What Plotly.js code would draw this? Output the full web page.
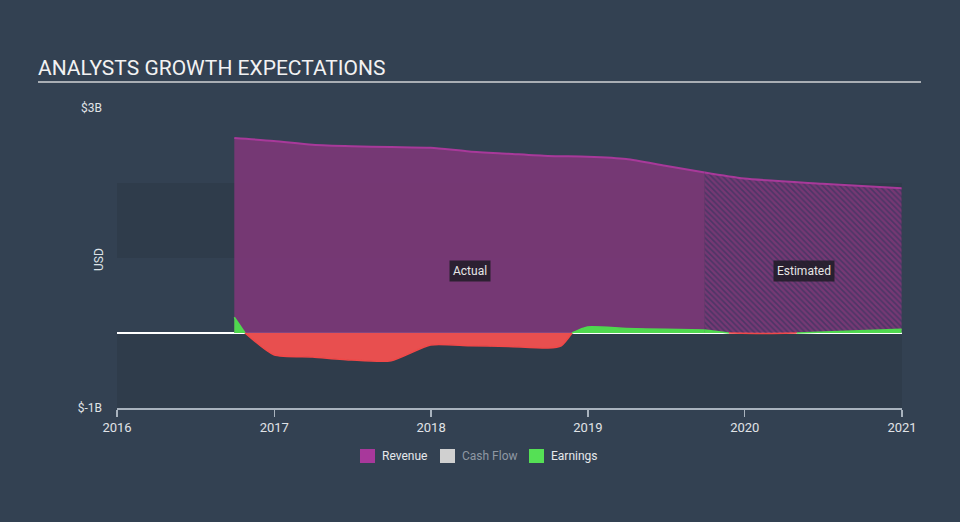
<!DOCTYPE html>
<html>
<head>
<meta charset="utf-8">
<script src="https://cdn.plot.ly/plotly-3.0.1.min.js"></script>
<style>
html,body{margin:0;padding:0;background:#334152;}
#chart{width:960px;height:522px;}
</style>
</head>
<body>
<div id="chart"></div>
<script>
// ---- data (values in billions USD) ----
var revenueActualDates = ['2016-09-30','2016-12-31','2017-03-31','2017-06-30','2017-09-30','2017-12-31','2018-03-31','2018-06-30','2018-09-30','2018-12-31','2019-03-31','2019-06-30','2019-09-30'];
var revenueActual = [2.60,2.56,2.51,2.49,2.48,2.47,2.42,2.39,2.36,2.35,2.32,2.23,2.14];
var revenueEstDates = ['2019-09-30','2019-12-31','2020-06-30','2020-12-31'];
var revenueEst = [2.14,2.06,1.99,1.93];

var earningsActualDates = ['2016-09-30','2016-10-25','2016-12-31','2017-03-31','2017-06-30','2017-09-30','2017-12-31','2018-03-31','2018-06-30','2018-09-30','2018-10-31','2018-11-25','2018-12-31','2019-03-31','2019-06-30','2019-09-30'];
var earningsActual = [0.21,0.0,-0.29,-0.32,-0.36,-0.37,-0.16,-0.17,-0.18,-0.20,-0.17,0.0,0.08,0.06,0.05,0.04];
var earningsEstDates = ['2019-09-30','2019-11-25','2020-02-15','2020-05-01','2020-12-31'];
var earningsEst = [0.04,0.0,-0.006,0.0,0.05];

var yearTicks = ['2016-01-01','2017-01-01','2018-01-01','2019-01-01','2020-01-01','2021-01-01'];
var yTickVals = [-1,3];
var yTickText = ['$-1B','$3B'];
var legendNames = ['Revenue','Cash Flow','Earnings'];
var legendColors = ['#a8389b','#d0d0d0','#55e055'];
var legendTextColors = ['#e6e8eb','#8f98a3','#e6e8eb'];

// ---- helpers ----
var B = 1e9;
function toUSD(a){return a.map(function(v){return v*B;});}
function pos(a){return a.map(function(v){return v>=0?v*B:null;});}
function neg(a){return a.map(function(v){return v<=0?v*B:null;});}

var revLine = '#a8399a';
var green = '#4fd84f';
var red = '#e84f4f';

function earnTrace(x, y, fillc, linec){
  return {x:x, y:y, type:'scatter', mode:'lines', fill:'tozeroy', connectgaps:false,
          fillcolor:fillc, line:{color:linec,width:1.5,shape:'spline',smoothing:0.6},
          showlegend:false, hoverinfo:'skip'};
}

var traces = [
  {x:revenueActualDates, y:toUSD(revenueActual), type:'scatter', mode:'lines', fill:'tozeroy',
   fillcolor:'rgba(123,56,118,0.93)', line:{color:revLine,width:2,shape:'spline',smoothing:0.7},
   showlegend:false, hoverinfo:'skip'},
  {x:revenueEstDates, y:toUSD(revenueEst), type:'scatter', mode:'lines', fill:'tozeroy',
   fillcolor:'rgba(123,56,118,0.93)',
   fillpattern:{shape:'\\', bgcolor:'rgba(123,56,118,0.93)', fgcolor:'#4d3566', size:4, solidity:0.4},
   line:{color:revLine,width:2,shape:'spline',smoothing:0.7},
   showlegend:false, hoverinfo:'skip'},
  earnTrace(earningsActualDates, pos(earningsActual), green, green),
  earnTrace(earningsActualDates, neg(earningsActual), red, '#f04848'),
  earnTrace(earningsEstDates, pos(earningsEst), green, green),
  earnTrace(earningsEstDates, neg(earningsEst), red, '#f04848')
];

var L = 117, R = 58, T = 108, Bm = 114;
var pw = 960 - L - R, ph = 522 - T - Bm;
function px2paperX(px){return (px - L)/pw;}
function px2paperY(py){return (522 - Bm - py)/ph;}

var shapes = [
  {type:'rect', xref:'paper', yref:'y', x0:0, x1:1, y0:1*B, y1:2*B, fillcolor:'#2f3c4b', line:{width:0}, layer:'below'},
  {type:'rect', xref:'paper', yref:'y', x0:0, x1:1, y0:-1*B, y1:0, fillcolor:'#2f3c4b', line:{width:0}, layer:'below'},
  {type:'line', xref:'paper', yref:'paper', x0:px2paperX(38), x1:px2paperX(921), y0:px2paperY(82), y1:px2paperY(82),
   line:{color:'#a9aeb4', width:2}}
];
var annotations = [
  {x:'2018-04-01', y:0.83*B, xref:'x', yref:'y', text:'Actual', showarrow:false,
   font:{size:12, color:'#e6e6e6'}, bgcolor:'rgba(30,28,38,0.85)', borderpad:3},
  {x:'2020-05-18', y:0.83*B, xref:'x', yref:'y', text:'Estimated', showarrow:false,
   font:{size:12, color:'#e6e6e6'}, bgcolor:'rgba(30,28,38,0.85)', borderpad:3},
  {x:px2paperX(90), y:px2paperY(260), xref:'paper', yref:'paper', text:'USD', textangle:-90, showarrow:false,
   font:{size:12, color:'#dde1e6'}}
];

// manual legend
var legendX = [360, 440, 529];
for (var i = 0; i < legendNames.length; i++){
  shapes.push({type:'rect', xref:'paper', yref:'paper',
    x0:px2paperX(legendX[i]), x1:px2paperX(legendX[i]+15), y0:px2paperY(463), y1:px2paperY(449),
    fillcolor:legendColors[i], line:{width:0}});
  annotations.push({xref:'paper', yref:'paper', x:px2paperX(legendX[i]+20), y:px2paperY(456),
    xanchor:'left', yanchor:'middle', text:legendNames[i], showarrow:false,
    font:{size:12, color:legendTextColors[i]}});
}

var layout = {
  width:960, height:522,
  paper_bgcolor:'#334152', plot_bgcolor:'#334152',
  font:{family:'Roboto, "Open Sans", sans-serif', color:'#dde1e6', size:12},
  margin:{l:L, r:R, t:T, b:Bm, pad:0},
  title:{text:'ANALYSTS GROWTH EXPECTATIONS', font:{size:21, color:'#f2f2f2', family:'Roboto, sans-serif'},
         xref:'container', yref:'container', x:38/960, xanchor:'left', y:1-68/522, yanchor:'middle'},
  xaxis:{type:'date', range:['2016-01-01','2021-01-01'], tickvals:yearTicks, tickformat:'%Y',
         ticks:'outside', ticklen:7, tickcolor:'#a9b3be', tickwidth:1.5,
         showline:true, linecolor:'#a9b3be', linewidth:1.5, showgrid:false, zeroline:false,
         tickfont:{size:13, color:'#e0e3e7'}, fixedrange:true},
  yaxis:{range:[-1*B, 3*B], tickvals:yTickVals.map(function(v){return v*B;}), ticktext:yTickText,
         showgrid:false, zeroline:true, zerolinecolor:'#ffffff', zerolinewidth:1.2,
         showline:false, ticks:'', ticklabelstandoff:14, tickfont:{size:12, color:'#e0e3e7'}, fixedrange:true},
  showlegend:false,
  shapes:shapes,
  annotations:annotations
};

Plotly.newPlot('chart', traces, layout, {displayModeBar:false, staticPlot:true});
</script>
</body>
</html>
